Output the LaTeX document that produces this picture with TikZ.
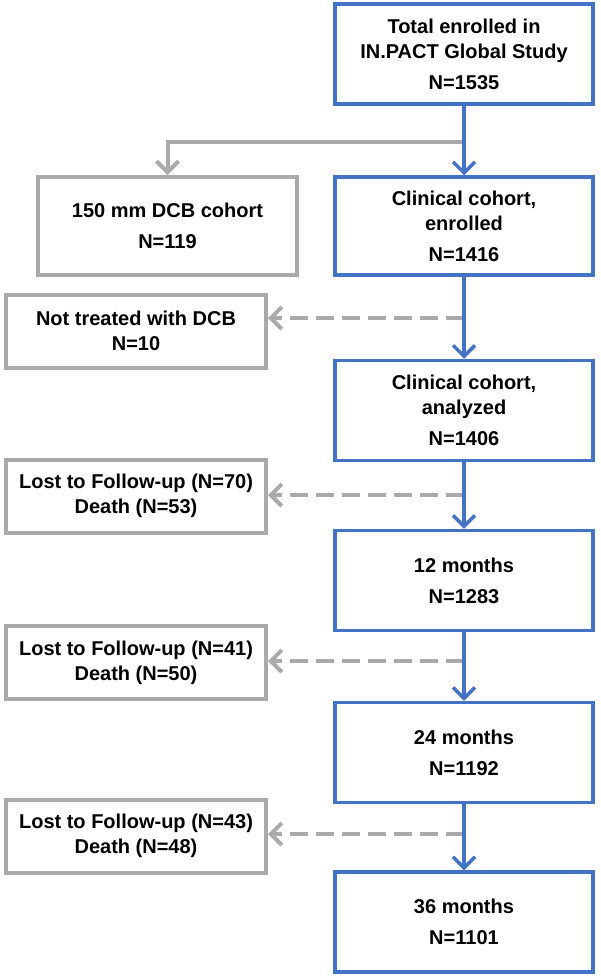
\documentclass[tikz,border=0pt]{standalone}
\usepackage{fontspec}
\setmainfont{Liberation Sans}
\usetikzlibrary{arrows.meta}

\definecolor{StudyBlue}{RGB}{68,114,196}
\definecolor{ExitGray}{RGB}{170,170,170}

\tikzset{
	boxfont/.style={font=\bfseries\fontsize{20}{25}\selectfont},
	stage/.style={boxfont, draw=StudyBlue, line width=3.5pt, align=center,
		minimum width=258pt, minimum height=100pt, inner sep=0pt},
	exitbox/.style={boxfont, draw=ExitGray, line width=4pt, align=center,
		minimum width=260pt, minimum height=73pt, inner sep=0pt},
	flow/.style={draw=StudyBlue, line width=3.5pt,
		-{Straight Barb[length=11pt,width=22pt]}},
	branch/.style={draw=ExitGray, line width=4pt,
		-{Straight Barb[length=11pt,width=22pt]}},
	loss/.style={draw=ExitGray, line width=4pt, dash pattern=on 18pt off 8pt,
		-{Straight Barb[length=11pt,width=22pt]}}
}

\begin{document}
\begin{tikzpicture}[x=1pt,y=1pt]
\useasboundingbox (0,0) rectangle (600,-977);
\def\colx{464}  % blue column
\def\exitx{136} % gray column
\def\gap{6pt}

% main stages
\node[stage] (total) at (\colx,-54) {Total enrolled in\\IN.PACT Global Study\\[\gap]N=1535};
\node[stage, minimum height=98pt] (enrolled) at (\colx,-226) {Clinical cohort,\\enrolled\\[\gap]N=1416};
\node[stage] (analyzed) at (\colx,-410.5) {Clinical cohort,\\analyzed\\[\gap]N=1406};
\node[stage] (m12) at (\colx,-580.5) {12 months\\[\gap]N=1283};
\node[stage] (m24) at (\colx,-752.5) {24 months\\[\gap]N=1192};
\node[stage] (m36) at (\colx,-922) {36 months\\[\gap]N=1101};

% excluded / lost
\node[exitbox, minimum width=259pt, minimum height=98pt] (dcb150) at (167.5,-226) {150 mm DCB cohort\\[\gap]N=119};
\node[exitbox] (nodcb) at (\exitx,-331) {Not treated with DCB\\N=10};
\node[exitbox] (lost12) at (\exitx,-496) {Lost to Follow-up (N=70)\\Death (N=53)};
\node[exitbox] (lost24) at (\exitx,-662.5) {Lost to Follow-up (N=41)\\Death (N=50)};
\node[exitbox] (lost36) at (\exitx,-836) {Lost to Follow-up (N=43)\\Death (N=48)};

% split points on the blue line
\coordinate (s0) at (\colx,-142);
\coordinate (s1) at (\colx,-318);
\coordinate (s2) at (\colx,-495);
\coordinate (s3) at (\colx,-661);
\coordinate (s4) at (\colx,-834);

\draw[branch] (s0) -| (dcb150.north);
\draw[loss] (s1) -- (nodcb.east |- s1);
\draw[loss] (s2) -- (lost12.east |- s2);
\draw[loss] (s3) -- (lost24.east |- s3);
\draw[loss] (s4) -- (lost36.east |- s4);

\draw[flow] (total) -- (enrolled);
\draw[flow] (enrolled) -- (analyzed);
\draw[flow] (analyzed) -- (m12);
\draw[flow] (m12) -- (m24);
\draw[flow] (m24) -- (m36);

\end{tikzpicture}
\end{document}
